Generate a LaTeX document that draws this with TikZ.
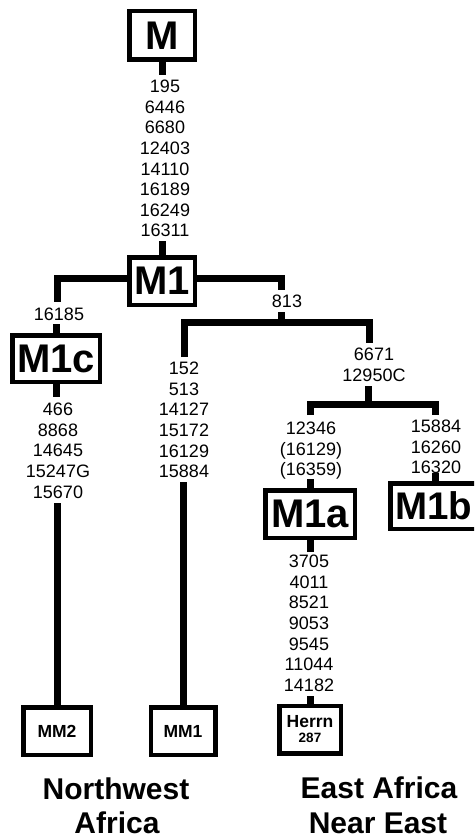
\documentclass[tikz,border=0pt]{standalone}
\usepackage{fontspec}
\setmainfont{Liberation Sans}
\begin{document}
\begin{tikzpicture}[x=1pt,y=-1pt,
  conn/.style={line width=7pt},
  hbox/.style={draw, line width=4.5pt, inner sep=0pt, font=\bfseries\fontsize{40}{40}\selectfont},
  sbox/.style={draw, line width=4.5pt, inner sep=0pt, align=center, font=\bfseries\fontsize{17.5}{15}\selectfont},
  nums/.style={inner sep=0pt, anchor=north, align=center, font=\fontsize{18}{20.6}\selectfont},
  region/.style={inner sep=0pt, anchor=base, font=\bfseries\fontsize{30}{30}\selectfont}]
\useasboundingbox (0,0) rectangle (474,840);
\clip (0,0) rectangle (474,840);

% boxes
\node[hbox, minimum width=65.5pt, minimum height=48.5pt] (M) at (162,35.5) {M};
\node[hbox, minimum width=65.5pt, minimum height=47.5pt] (M1) at (162,281) {M1};
\node[hbox, minimum width=87.5pt, minimum height=46.5pt] (M1c) at (56,358.5) {M1c};
\node[hbox, minimum width=89.5pt, minimum height=47.5pt] (M1a) at (310,514) {M1a};
\node[hbox, minimum width=87.5pt, minimum height=45.5pt, font=\bfseries\fontsize{38.5}{38.5}\selectfont] (M1b) at (434,506) {M1b};
\node[sbox, minimum width=67.5pt, minimum height=47.5pt] (MM2) at (57,731) {MM2};
\node[sbox, minimum width=64.5pt, minimum height=47.5pt] (MM1) at (183,731) {MM1};
\node[sbox, minimum width=61.5pt, minimum height=47.5pt] (Herrn) at (310,729.5) {Herrn\\{\fontsize{13.5}{15}\selectfont 287}};

% mutation lists
\node[nums] (Mnum) at (165,80) {195\\6446\\6680\\12403\\14110\\16189\\16249\\16311};
\node[nums] (n16185) at (59,308) {16185};
\node[nums] (n813) at (287,295) {813};
\node[nums] (M1cnum) at (58,403) {466\\8868\\14645\\15247G\\15670};
\node[nums] (MM1num) at (184,362) {152\\513\\14127\\15172\\16129\\15884};
\node[nums] (n6671) at (374,348) {6671\\12950C};
\node[nums] (M1apre) at (311,422) {12346\\(16129)\\(16359)};
\node[nums] (M1bpre) at (436,420) {15884\\16260\\16320};
\node[nums] (M1anum) at (309,555) {3705\\4011\\8521\\9053\\9545\\11044\\14182};

% regions
\node[region] (nw1) at (116,799) {Northwest};
\node[region] (nw2) at (117,833) {Africa};
\node[region] (ea1) at (379,798) {East Africa};
\node[region] (ea2) at (378,833) {Near East};

% junction coordinates
\coordinate (c813a) at (281,290);
\coordinate (c813b) at (281,312);
\coordinate (c16185) at (57,302);
\coordinate (t152) at (184,357);
\coordinate (bar1L) at (184,322);
\coordinate (bar1R) at (369,322);
\coordinate (t6671) at (369,343);
\coordinate (b12950) at (368,386);
\coordinate (bar2L) at (310,404);
\coordinate (bar2R) at (435,404);
\coordinate (t12346) at (310,415);
\coordinate (t15884) at (435,415);
\coordinate (b15670) at (57,503);
\coordinate (b15884) at (183,482);

% connectors
\draw[conn] (M.south) -- ++(0,13);
\draw[conn] (M1.north) -- ++(0,-14);
\draw[conn] ([yshift=3pt]M1.east) -| (c813a);
\draw[conn] (c813b) -- ++(0,10);
\draw[conn] (t152) -- (bar1L) -- (bar1R) -- (t6671);
\draw[conn] (b12950) -- (b12950 |- bar2L);
\draw[conn] (t12346) -- (bar2L) -- (bar2R) -- (t15884);
\draw[conn] (M1a.north) -- ++(0,-9);
\draw[conn] (M1b.north -| t15884) -- ++(0,-8);
\draw[conn] (M1a.south) -- ++(0,12);
\draw[conn] (Herrn.north) -- ++(0,-8);
\draw[conn] ([yshift=3pt]M1.west) -| (c16185);
\draw[conn] (M1c.north) -- ++(0,-9);
\draw[conn] (M1c.south) -- ++(0,13);
\draw[conn] (b15670) -- (MM2.north);
\draw[conn] (b15884) -- (MM1.north);
\end{tikzpicture}
\end{document}
